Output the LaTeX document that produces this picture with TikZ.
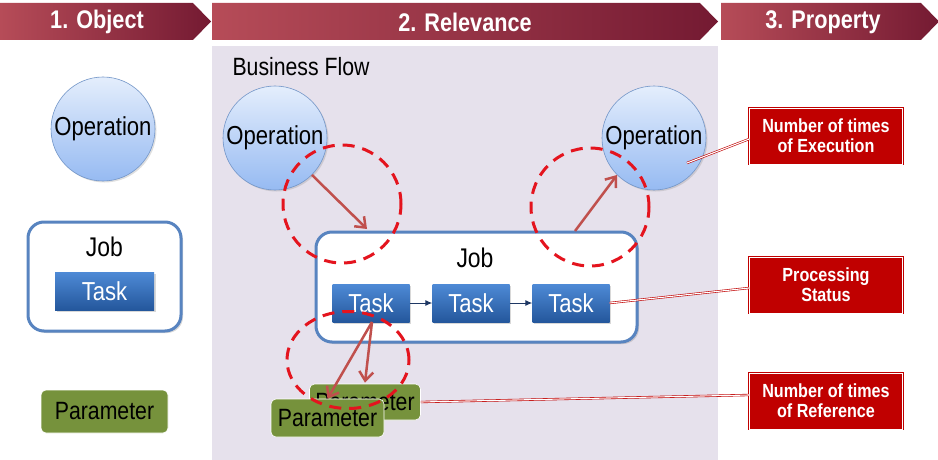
\documentclass[tikz,border=0pt]{standalone}
\usepackage{fontspec}
\setmainfont{Liberation Sans}[FakeStretch=0.85]
\usetikzlibrary{arrows.meta,shapes.geometric,shadows,calc}
\definecolor{hdrA}{RGB}{182,76,88}
\definecolor{hdrB}{RGB}{116,26,50}
\definecolor{lav}{RGB}{230,225,236}
\definecolor{opTop}{RGB}{228,238,252}
\definecolor{opBot}{RGB}{150,186,242}
\definecolor{opLine}{RGB}{115,150,200}
\definecolor{jobLine}{RGB}{88,132,192}
\definecolor{taskTop}{RGB}{78,138,214}
\definecolor{taskBot}{RGB}{36,87,156}
\definecolor{param}{RGB}{118,146,60}
\definecolor{prop}{RGB}{192,0,0}
\definecolor{arr}{RGB}{192,80,77}
\definecolor{dashred}{RGB}{228,20,30}
\definecolor{tarr}{RGB}{31,56,100}
\begin{document}
\begin{tikzpicture}[x=1pt,y=-1pt,
  banner/.style={left color=hdrA, right color=hdrB},
  hdrtext/.style={text=white, font=\bfseries\fontsize{25.5}{27}\selectfont},
  opnode/.style={circle, minimum size=104pt, inner sep=0pt, top color=opTop, bottom color=opBot, draw=opLine, line width=0.6pt, font=\fontsize{26}{28}\selectfont,
     drop shadow={shadow xshift=1.5pt, shadow yshift=-1.5pt, opacity=0.25}},
  jobbox/.style={rounded corners=16pt, draw=jobLine, line width=3pt, fill=white, inner sep=0pt,
     drop shadow={shadow xshift=2pt, shadow yshift=-2pt, opacity=0.3}},
  joblabel/.style={font=\fontsize{27}{29}\selectfont},
  tasknode/.style={rectangle, top color=taskTop, bottom color=taskBot, text=white, inner sep=0pt, minimum height=38pt,
     font=\fontsize{26}{28}\selectfont, drop shadow={shadow xshift=1.5pt, shadow yshift=-1.5pt, opacity=0.3}},
  paramnode/.style={rectangle, rounded corners=5pt, fill=param, draw=white, line width=0.6pt, inner sep=0pt, font=\fontsize{25}{27}\selectfont},
  propnode/.style={rectangle, fill=prop, draw=prop, double=white, double distance=0.9pt, line width=0.6pt, text=white, align=center,
     minimum width=153pt, minimum height=56pt, inner sep=0pt, font=\bfseries\fontsize{19}{20}\selectfont},
  relarrow/.style={draw=arr, line width=2.5pt, -{Straight Barb[length=9pt,width=14pt,line width=2.5pt]}},
  taskarrow/.style={draw=tarr, line width=1pt, -{Latex[length=7pt,width=6pt]}},
  callout/.style={draw=prop, double=white, double distance=1.1pt, line width=0.6pt},
  hl/.style={draw=dashred, line width=3pt, dash pattern=on 12pt off 8pt, inner sep=0pt}
]
\useasboundingbox (0,0) rectangle (938,460);
\clip (0,0) rectangle (938,460);

% banners
\path[banner] (0,3) -- (193,3) -- (211,21.5) -- (193,40) -- (0,40) -- cycle;
\path[banner] (212,3) -- (700,3) -- (718,21.5) -- (700,40) -- (212,40) -- cycle;
\path[banner] (721,3) -- (921,3) -- (939,21.5) -- (921,40) -- (721,40) -- cycle;
\node[hdrtext] (h1) at (97,22) {1. Object};
\node[hdrtext] (h2) at (465,22) {2. Relevance};
\node[hdrtext] (h3) at (823,22) {3. Property};

% lavender area
\fill[lav] (212,46) rectangle (718,460);
\node[anchor=west, font=\fontsize{25}{27}\selectfont] (bf) at (229,67) {Business Flow};

% left column
\node[opnode] (op1) at (103,129) {Operation};
\node[jobbox, minimum width=153pt, minimum height=109pt] (job1) at (104.5,276.5) {};
\node[joblabel] (job1lbl) at (104.5,247) {Job};
\node[tasknode, minimum width=99pt] (task0) at (104.5,291) {Task};
\node[paramnode, minimum width=127pt, minimum height=43pt] (param0) at (104.5,411.5) {Parameter};

% relevance area
\node[opnode] (op2) at (275,138) {Operation};
\node[opnode] (op3) at (654,138) {Operation};
\node[jobbox, minimum width=321pt, minimum height=110pt] (job2) at (476.5,287) {};
\node[joblabel] (job2lbl) at (475,258) {Job};
\node[tasknode, minimum width=77pt] (t1) at (371,303) {Task};
\node[tasknode, minimum width=77pt] (t2) at (471,303) {Task};
\node[tasknode, minimum width=77pt] (t3) at (571,303) {Task};
\draw[taskarrow] (t1) -- (t2);
\draw[taskarrow] (t2) -- (t3);

\node[paramnode, minimum width=111pt, minimum height=36pt] (pb) at (365,402) {Parameter};
\node[paramnode, minimum width=113pt, minimum height=38pt] (pf) at (327.5,418) {Parameter};

% relation arrows
\coordinate (a1e) at (367,229);
\coordinate (a2s) at (575,231);
\draw[relarrow] (op2.315) -- (a1e);
\draw[relarrow] (a2s) -- (op3.225);
\coordinate (t1b) at (372,322);
\draw[relarrow] (t1b) -- (pf.north);
\draw[relarrow] (t1b) -- ($(pb.north)+(0,-1)$);

% dashed highlights
\node[hl, circle, minimum size=118pt] (hl1) at (342,204) {};
\node[hl, circle, minimum size=118pt] (hl2) at (590,207) {};
\node[hl, ellipse, minimum width=122pt, minimum height=97pt] (hl3) at (348,360) {};

% properties
\node[propnode] (pe) at (826,136) {Number of times\\of Execution};
\node[propnode] (ps) at (826,285) {Processing\\Status};
\node[propnode] (pr) at (826,401) {Number of times\\of Reference};

\coordinate (c1) at (687,163);
\coordinate (pec) at ($(pe.west)+(0,3)$);
\coordinate (psc) at ($(ps.west)+(0,3)$);
\coordinate (prc) at ($(pr.west)+(0,-6)$);
\draw[callout] (pec) -- (c1);
\draw[callout] (psc) -- (t3.east);
\draw[callout] (prc) -- (pb.east);
\end{tikzpicture}
\end{document}
